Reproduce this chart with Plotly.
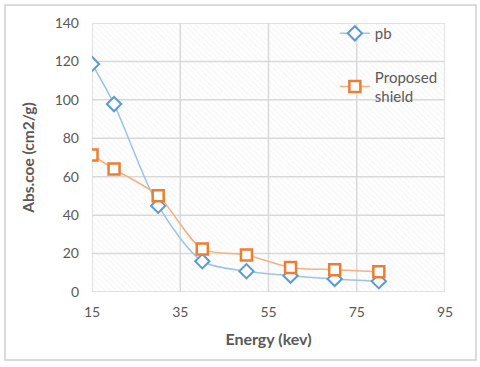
import plotly.graph_objects as go

energy = [15, 20, 30, 40, 50, 60, 70, 80]
pb = [118.7, 97.8, 44.9, 16.0, 10.8, 8.5, 6.8, 5.6]
proposed = [71.3, 64.0, 50.1, 22.4, 19.3, 12.8, 11.6, 10.6]

x_ticks = [15, 35, 55, 75, 95]
y_ticks = [0, 20, 40, 60, 80, 100, 120, 140]
x_range = [x_ticks[0], x_ticks[-1]]
y_range = [y_ticks[0], y_ticks[-1]]

fig = go.Figure()

# hatched plot background
fig.add_trace(go.Scatter(
    x=[x_range[0], x_range[1], x_range[1], x_range[0], x_range[0]],
    y=[y_range[0], y_range[0], y_range[1], y_range[1], y_range[0]],
    mode='lines', line=dict(width=0), fill='toself', fillcolor='rgba(0,0,0,0)',
    fillpattern=dict(shape='\\', size=4, solidity=0.25, fgcolor='#e8e8e8', bgcolor='white'),
    hoverinfo='skip', showlegend=False))

# gridlines drawn over the hatch, under the data
gx, gy = [], []
for t in x_ticks:
    gx += [t, t, None]
    gy += [y_range[0], y_range[1], None]
for t in y_ticks:
    gx += [x_range[0], x_range[1], None]
    gy += [t, t, None]
fig.add_trace(go.Scatter(x=gx, y=gy, mode='lines', line=dict(color='#d9d9d9', width=1.5),
                         hoverinfo='skip', showlegend=False))

fig.add_trace(go.Scatter(
    x=energy, y=pb, name='pb', mode='lines+markers', legendgroup='a',
    line=dict(color='#9DC3E6', width=1.5, shape='spline', smoothing=0.8),
    marker=dict(symbol='diamond', size=11, color='white',
                line=dict(color='#5B9BD5', width=2))))

fig.add_trace(go.Scatter(
    x=energy, y=proposed, name='Proposed<br>shield', mode='lines+markers', legendgroup='b',
    line=dict(color='#F4B183', width=1.5, shape='spline', smoothing=0.8),
    marker=dict(symbol='square', size=11, color='white',
                line=dict(color='#ED7D31', width=2.5))))

fig.update_layout(
    width=480, height=367,
    margin=dict(l=92, r=35, t=23, b=75),
    paper_bgcolor='white', plot_bgcolor='white',
    font=dict(family='Lato', size=14, color='#595959'),
    legend=dict(x=0.688, y=1.022, xanchor='left', yanchor='top',
                bgcolor='rgba(0,0,0,0)', tracegroupgap=21,
                font=dict(size=15, color='#595959')),
    xaxis=dict(range=x_range, tickvals=x_ticks, showgrid=False,
               zeroline=False, showline=False, ticks='', ticklabelstandoff=10,
               title=dict(text='<b>Energy (kev)</b>', font=dict(size=16), standoff=14)),
    yaxis=dict(range=y_range, tickvals=y_ticks, showgrid=False,
               zeroline=False, showline=False, ticks='', ticklabelstandoff=12,
               title=dict(text='<b>Abs.coe (cm2/g)</b>', font=dict(size=15.5), standoff=16)),
    shapes=[dict(type='rect', xref='paper', yref='paper',
                 x0=-87/353, x1=1 + 31/353, y0=-68/269, y1=1 + 18/269,
                 line=dict(color='#d0d0d0', width=1.5), layer='above')]
)

fig.write_html("out.html", config={'displayModeBar': False},
               post_script="document.body.style.margin='0';")
